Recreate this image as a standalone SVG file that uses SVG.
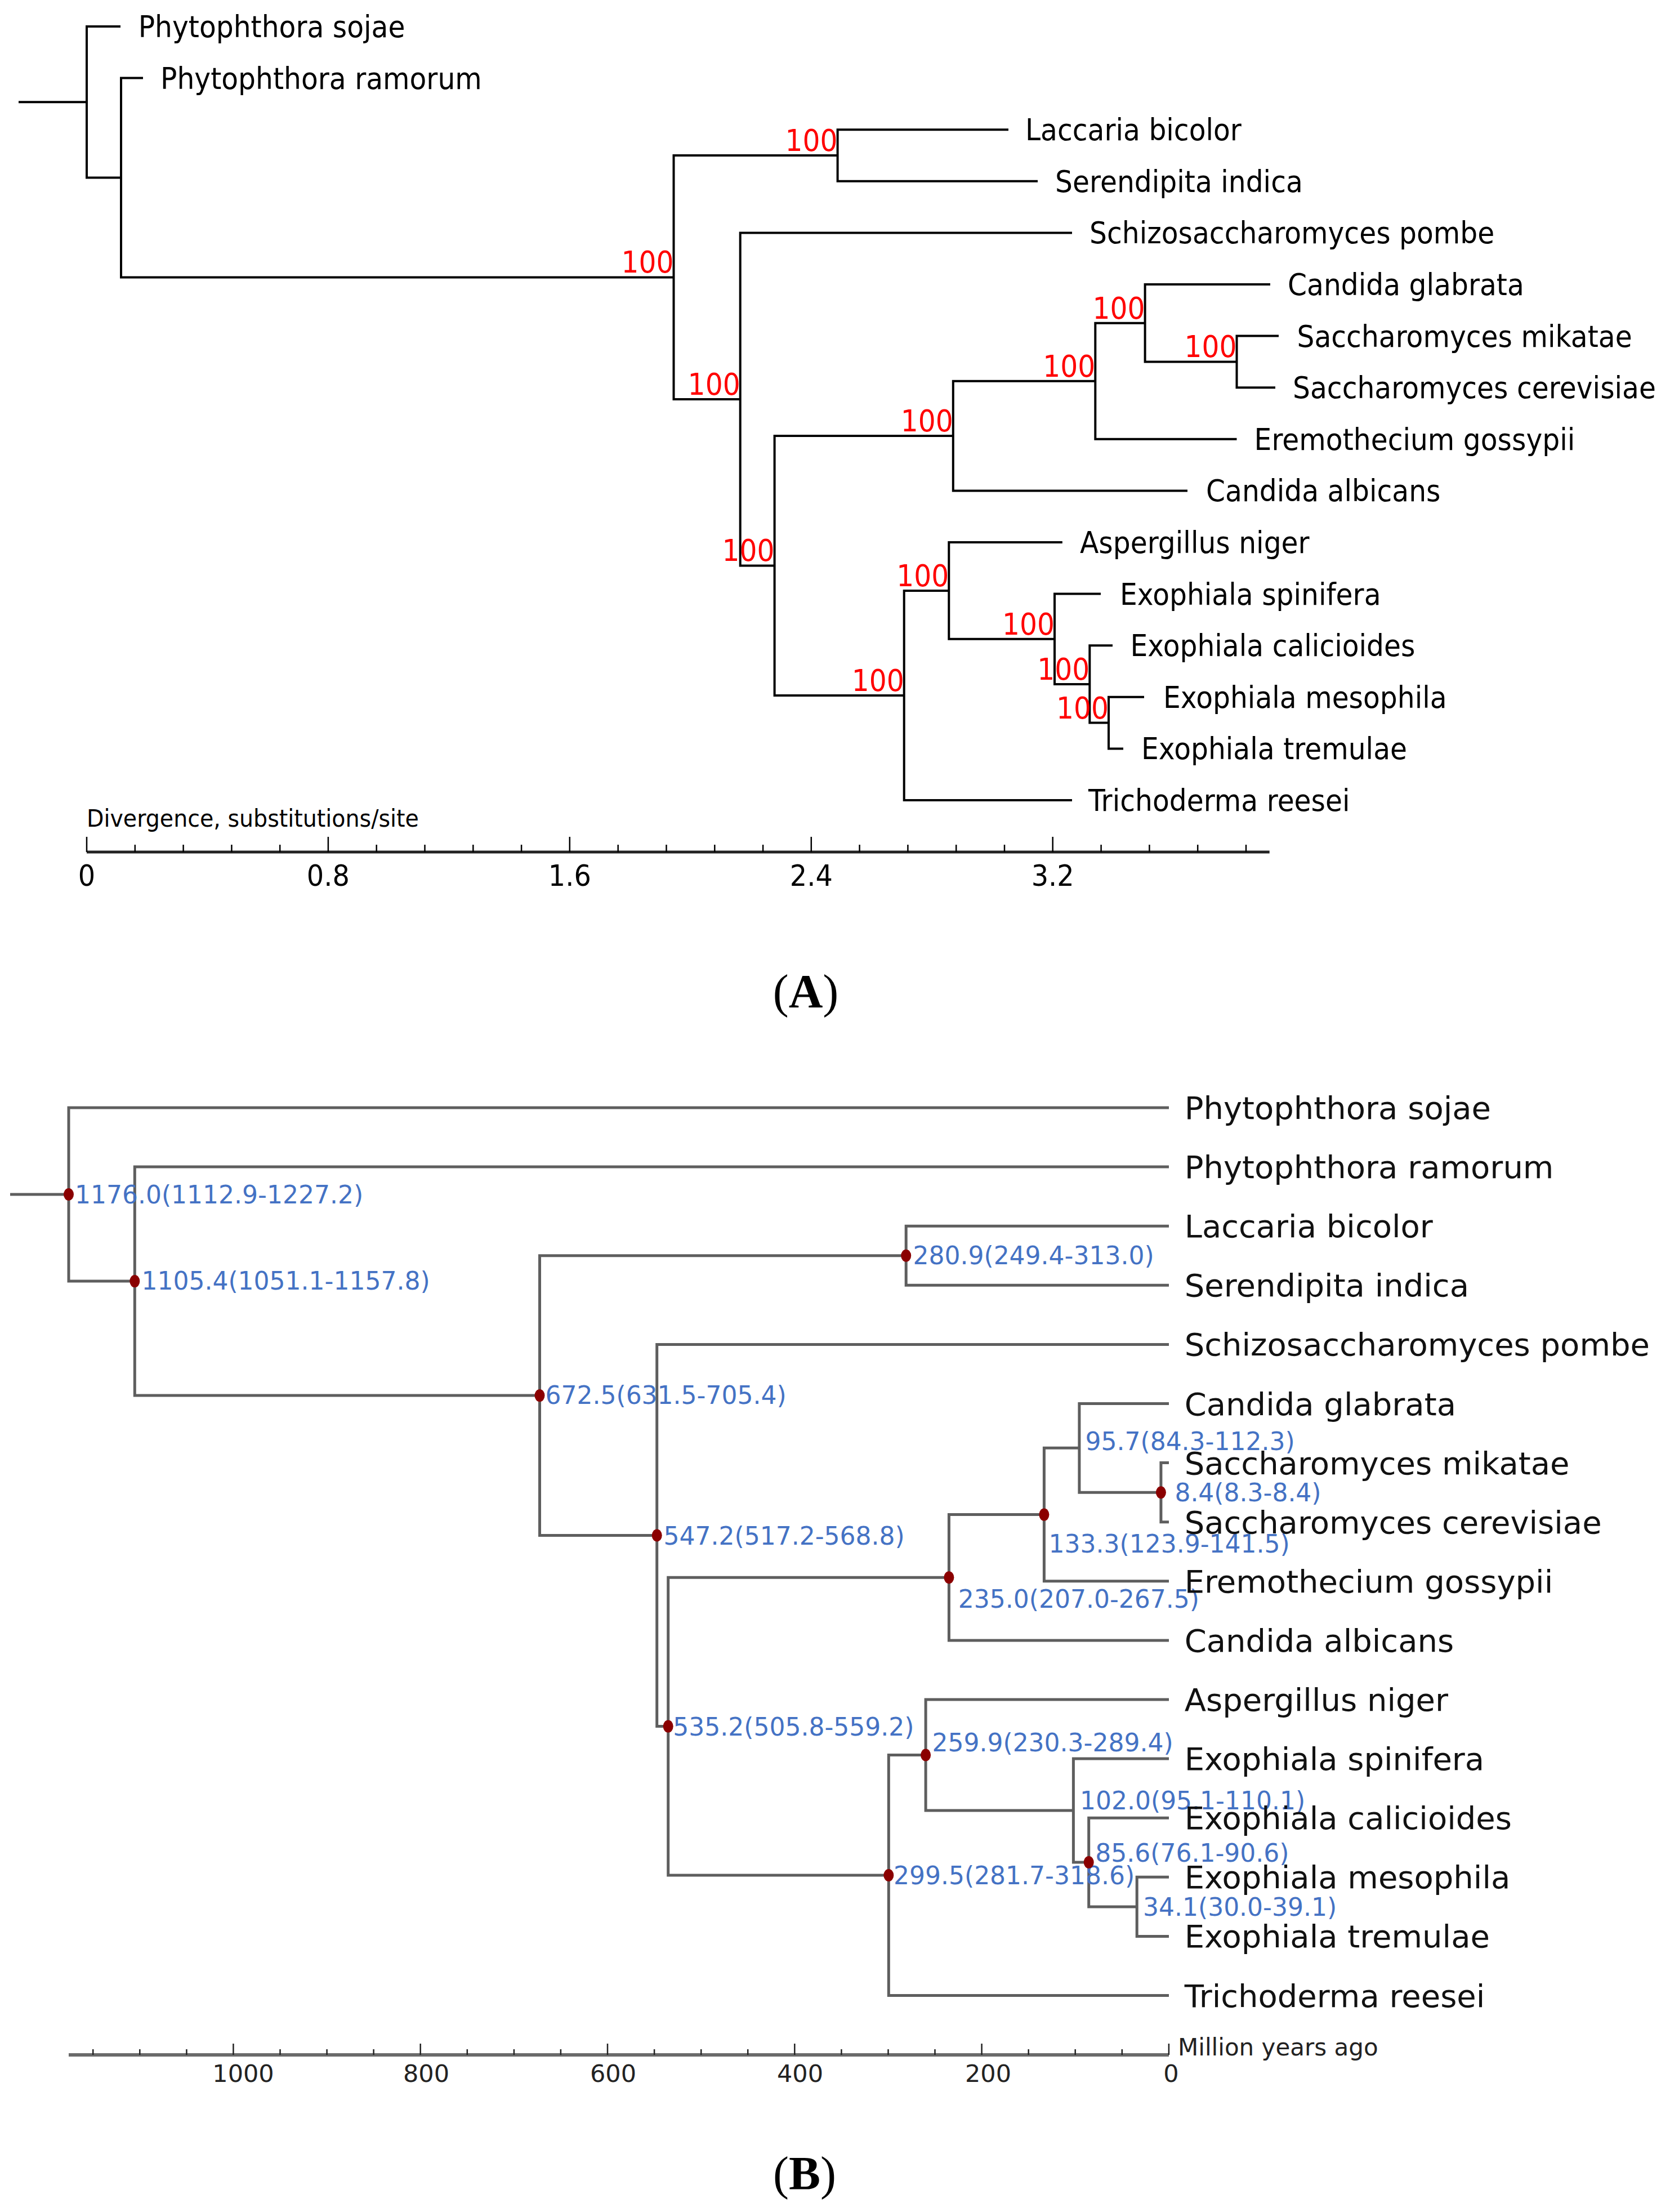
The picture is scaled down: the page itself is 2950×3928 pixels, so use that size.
<svg xmlns="http://www.w3.org/2000/svg" width="2950" height="3928" viewBox="0 0 2950 3928">
<style>
text { font-family: "DejaVu Sans", "Liberation Sans", sans-serif; }
.ta { font-size: 53px; fill: #000; }
.bs { font-size: 53px; fill: #ff0000; text-anchor: end; }
.tk { font-size: 52px; fill: #000; text-anchor: middle; }
.tb { font-size: 56px; fill: #111; }
.bl { font-size: 44px; fill: #4472c4; }
.tkb { font-size: 43px; fill: #222; text-anchor: middle; }
.ea { stroke: #000; stroke-width: 4; fill: none; }
.eb { stroke: #5e5e5e; stroke-width: 5; fill: none; }
.dot { fill: #8b0000; }
.cap { font-family: "Liberation Serif", "Times New Roman", serif; font-size: 84px; fill: #000; text-anchor: middle; }
</style>
<rect width="2950" height="3928" fill="#fff"/>

<!-- Panel A connectors -->
<g id="connectors-a" class="ea">
<path d="M33 181.3 H154"/>
<path d="M214 47 H154 V315.5 H215"/>
<path d="M254 138.6 H215 V492.5 H1196.5"/>
<path d="M1487.6 276 H1196.5 V709 H1314.7"/>
<path d="M1791 230.2 H1487.6 V321.8 H1843"/>
<path d="M1904 413.4 H1314.7 V1004.5 H1375.6"/>
<path d="M1692.8 774.1 H1375.6 V1234.9 H1605.7"/>
<path d="M1945.3 676.75 H1692.8 V871.4 H2109"/>
<path d="M2033.6 573.7 H1945.3 V779.8 H2196.5"/>
<path d="M2256 505 H2033.6 V642.4 H2196.5"/>
<path d="M2271 596.6 H2196.5 V688.2 H2265"/>
<path d="M1685.3 1048.9 H1605.7 V1421 H1904"/>
<path d="M1886.8 963 H1685.3 V1134.75 H1873"/>
<path d="M1955 1054.6 H1873 V1214.9 H1935.3"/>
<path d="M1976 1146.2 H1935.3 V1283.6 H1969"/>
<path d="M2032 1237.8 H1969 V1329.4 H1995"/>
</g>

<!-- Panel A leaf labels -->
<g id="a-leaves" transform="scale(0.92 1)">
<g id="a-sojae"><text class="ta" x="267.1" y="66">Phytophthora sojae</text></g>
<g id="a-ramorum"><text class="ta" x="309.8" y="157.6">Phytophthora ramorum</text></g>
<g id="a-laccaria"><text class="ta" x="1979.3" y="249.2">Laccaria bicolor</text></g>
<g id="a-serendipita"><text class="ta" x="2037" y="340.8">Serendipita indica</text></g>
<g id="a-schizo"><text class="ta" x="2103.3" y="432.4">Schizosaccharomyces pombe</text></g>
<g id="a-cglabrata"><text class="ta" x="2485.9" y="524">Candida glabrata</text></g>
<g id="a-smikatae"><text class="ta" x="2503.8" y="615.6">Saccharomyces mikatae</text></g>
<g id="a-scerevisiae"><text class="ta" x="2495.7" y="707.2">Saccharomyces cerevisiae</text></g>
<g id="a-eremothecium"><text class="ta" x="2421.3" y="798.8">Eremothecium gossypii</text></g>
<g id="a-calbicans"><text class="ta" x="2328.3" y="890.4">Candida albicans</text></g>
<g id="a-aspergillus"><text class="ta" x="2084.8" y="982">Aspergillus niger</text></g>
<g id="a-espinifera"><text class="ta" x="2162" y="1073.6">Exophiala spinifera</text></g>
<g id="a-ecalicioides"><text class="ta" x="2182.1" y="1165.2">Exophiala calicioides</text></g>
<g id="a-emesophila"><text class="ta" x="2245.7" y="1256.8">Exophiala mesophila</text></g>
<g id="a-etremulae"><text class="ta" x="2203.3" y="1348.4">Exophiala tremulae</text></g>
<g id="a-trichoderma"><text class="ta" x="2101.1" y="1440">Trichoderma reesei</text></g>
</g>

<!-- Panel A bootstrap labels -->
<g id="a-support" transform="scale(0.92 1)">
<g id="a-n-fungi"><text class="bs" x="1300.5" y="484.5">100</text></g>
<g id="a-n-basidio"><text class="bs" x="1617" y="268">100</text></g>
<g id="a-n2"><text class="bs" x="1429" y="701">100</text></g>
<g id="a-n3"><text class="bs" x="1495.2" y="996.5">100</text></g>
<g id="a-n4"><text class="bs" x="1840" y="766">100</text></g>
<g id="a-n5"><text class="bs" x="2114.5" y="668.8">100</text></g>
<g id="a-n6"><text class="bs" x="2210.4" y="565.7">100</text></g>
<g id="a-n7"><text class="bs" x="2387.5" y="634.4">100</text></g>
<g id="a-n8"><text class="bs" x="1745.3" y="1226.9">100</text></g>
<g id="a-n9"><text class="bs" x="1831.8" y="1040.9">100</text></g>
<g id="a-n10"><text class="bs" x="2035.9" y="1126.8">100</text></g>
<g id="a-n11"><text class="bs" x="2103.6" y="1206.9">100</text></g>
<g id="a-n12"><text class="bs" x="2140.2" y="1275.6">100</text></g>
</g>

<!-- Panel A axis -->
<g id="a-axis">
<path d="M154 1513 H2254.7" stroke="#222" stroke-width="5" fill="none"/>
<path d="M154 1486 V1513 M582.9 1486 V1513 M1011.8 1486 V1513 M1440.8 1486 V1513 M1869.7 1486 V1513" stroke="#000" stroke-width="2.5" fill="none"/>
<path d="M239.8 1500 V1513 M325.6 1500 V1513 M411.4 1500 V1513 M497.2 1500 V1513 M668.7 1500 V1513 M754.5 1500 V1513 M840.3 1500 V1513 M926.1 1500 V1513 M1097.7 1500 V1513 M1183.5 1500 V1513 M1269.3 1500 V1513 M1355.1 1500 V1513 M1526.6 1500 V1513 M1612.4 1500 V1513 M1698.2 1500 V1513 M1784 1500 V1513 M1955.6 1500 V1513 M2041.4 1500 V1513 M2127.2 1500 V1513 M2213 1500 V1513" stroke="#000" stroke-width="2.5" fill="none"/>
<g transform="scale(0.92 1)">
<text x="167.4" y="1468" style="font-size:43px" fill="#000">Divergence, substitutions/site</text>
<text class="tk" x="167.4" y="1573">0</text>
<text class="tk" x="633.6" y="1573">0.8</text>
<text class="tk" x="1099.8" y="1573">1.6</text>
<text class="tk" x="1566.1" y="1573">2.4</text>
<text class="tk" x="2032.3" y="1573">3.2</text>
</g>
</g>

<g id="caption-a"><text class="cap" x="1431" y="1789">(<tspan font-weight="bold">A</tspan>)</text></g>

<!-- Panel B connectors -->
<g id="connectors-b" class="eb">
<path d="M18 2121 H122"/>
<path d="M2076 1967 H122 V2275.1 H239.3"/>
<path d="M2076 2072.1 H239.3 V2478.1 H958.5"/>
<path d="M1609.2 2229.7 H958.5 V2726.5 H1166.7"/>
<path d="M2076 2177.2 H1609.2 V2282.3 H2076"/>
<path d="M2076 2387.4 H1166.7 V3065.6 H1186.7"/>
<path d="M1685.4 2801.2 H1186.7 V3330 H1578.3"/>
<path d="M1854.4 2689.6 H1685.4 V2912.9 H2076"/>
<path d="M1916.9 2571.3 H1854.4 V2807.8 H2076"/>
<path d="M2076 2492.5 H1916.9 V2650.2 H2061.9"/>
<path d="M2076 2597.6 H2061.9 V2702.7 H2076"/>
<path d="M1644.1 3116.5 H1578.3 V3543.5 H2076"/>
<path d="M2076 3018 H1644.1 V3215 H1906.4"/>
<path d="M2076 3123.1 H1906.4 V3307 H1933.7"/>
<path d="M2076 3228.2 H1933.7 V3385.9 H2019.2"/>
<path d="M2076 3333.3 H2019.2 V3438.4 H2076"/>
</g>

<!-- Panel B node markers and age labels -->
<g id="b-n1176"><ellipse class="dot" cx="122" cy="2121" rx="9" ry="11"/><text class="bl" x="133" y="2137">1176.0(1112.9-1227.2)</text></g>
<g id="b-n1105"><ellipse class="dot" cx="239.3" cy="2275.1" rx="9" ry="11"/><text class="bl" x="251.5" y="2290">1105.4(1051.1-1157.8)</text></g>
<g id="b-n672"><ellipse class="dot" cx="958.5" cy="2478.1" rx="9" ry="11"/><text class="bl" x="968.5" y="2493">672.5(631.5-705.4)</text></g>
<g id="b-n280"><ellipse class="dot" cx="1609.2" cy="2229.7" rx="9" ry="11"/><text class="bl" x="1621.5" y="2245">280.9(249.4-313.0)</text></g>
<g id="b-n547"><ellipse class="dot" cx="1166.7" cy="2726.5" rx="9" ry="11"/><text class="bl" x="1178.6" y="2742.5">547.2(517.2-568.8)</text></g>
<g id="b-n535"><ellipse class="dot" cx="1186.7" cy="3065.6" rx="9" ry="11"/><text class="bl" x="1195.3" y="3082">535.2(505.8-559.2)</text></g>
<g id="b-n299"><ellipse class="dot" cx="1578.3" cy="3330" rx="9" ry="11"/><text class="bl" x="1587" y="3346">299.5(281.7-318.6)</text></g>
<g id="b-n259"><ellipse class="dot" cx="1644.1" cy="3116.5" rx="9" ry="11"/><text class="bl" x="1655.5" y="3110">259.9(230.3-289.4)</text></g>
<g id="b-n235"><ellipse class="dot" cx="1685.4" cy="2801.2" rx="9" ry="11"/><text class="bl" x="1701.8" y="2855.4">235.0(207.0-267.5)</text></g>
<g id="b-n133"><ellipse class="dot" cx="1854.4" cy="2689.6" rx="9" ry="11"/><text class="bl" x="1862.6" y="2756.5">133.3(123.9-141.5)</text></g>
<g id="b-n95"><text class="bl" x="1927.5" y="2574.5">95.7(84.3-112.3)</text></g>
<g id="b-n8"><ellipse class="dot" cx="2061.9" cy="2650.2" rx="9" ry="11"/><text class="bl" x="2086.4" y="2666">8.4(8.3-8.4)</text></g>
<g id="b-n102"><text class="bl" x="1918" y="3212.5">102.0(95.1-110.1)</text></g>
<g id="b-n85"><ellipse class="dot" cx="1933.7" cy="3307" rx="9" ry="11"/><text class="bl" x="1945.3" y="3306">85.6(76.1-90.6)</text></g>
<g id="b-n34"><text class="bl" x="2030" y="3402">34.1(30.0-39.1)</text></g>

<!-- Panel B leaf labels -->
<g id="b-leaves">
<g id="b-sojae"><text class="tb" x="2103.7" y="1987">Phytophthora sojae</text></g>
<g id="b-ramorum"><text class="tb" x="2103.7" y="2092.1">Phytophthora ramorum</text></g>
<g id="b-laccaria"><text class="tb" x="2103.7" y="2197.2">Laccaria bicolor</text></g>
<g id="b-serendipita"><text class="tb" x="2103.7" y="2302.3">Serendipita indica</text></g>
<g id="b-schizo"><text class="tb" x="2103.7" y="2407.4">Schizosaccharomyces pombe</text></g>
<g id="b-cglabrata"><text class="tb" x="2103.7" y="2512.5">Candida glabrata</text></g>
<g id="b-smikatae"><text class="tb" x="2103.7" y="2617.6">Saccharomyces mikatae</text></g>
<g id="b-scerevisiae"><text class="tb" x="2103.7" y="2722.7">Saccharomyces cerevisiae</text></g>
<g id="b-eremothecium"><text class="tb" x="2103.7" y="2827.8">Eremothecium gossypii</text></g>
<g id="b-calbicans"><text class="tb" x="2103.7" y="2932.9">Candida albicans</text></g>
<g id="b-aspergillus"><text class="tb" x="2103.7" y="3038">Aspergillus niger</text></g>
<g id="b-espinifera"><text class="tb" x="2103.7" y="3143.1">Exophiala spinifera</text></g>
<g id="b-ecalicioides"><text class="tb" x="2103.7" y="3248.2">Exophiala calicioides</text></g>
<g id="b-emesophila"><text class="tb" x="2103.7" y="3353.3">Exophiala mesophila</text></g>
<g id="b-etremulae"><text class="tb" x="2103.7" y="3458.4">Exophiala tremulae</text></g>
<g id="b-trichoderma"><text class="tb" x="2103.7" y="3563.5">Trichoderma reesei</text></g>
</g>

<!-- Panel B axis -->
<g id="b-axis">
<path d="M122 3649 H2076" stroke="#6a6a6a" stroke-width="6" fill="none"/>
<path d="M2075.9 3629 V3649 M1743.6 3629 V3649 M1411.3 3629 V3649 M1079 3629 V3649 M746.7 3629 V3649 M414.4 3629 V3649" stroke="#222" stroke-width="2.5" fill="none"/>
<path d="M1992.8 3639 V3649 M1909.7 3639 V3649 M1826.7 3639 V3649 M1660.5 3639 V3649 M1577.5 3639 V3649 M1494.4 3639 V3649 M1328.2 3639 V3649 M1245.2 3639 V3649 M1162.1 3639 V3649 M995.9 3639 V3649 M912.9 3639 V3649 M829.8 3639 V3649 M663.6 3639 V3649 M580.6 3639 V3649 M497.5 3639 V3649 M331.4 3639 V3649 M248.3 3639 V3649 M165.2 3639 V3649" stroke="#222" stroke-width="2.5" fill="none"/>
<text class="tkb" x="432" y="3697">1000</text>
<text class="tkb" x="757" y="3697">800</text>
<text class="tkb" x="1089" y="3697">600</text>
<text class="tkb" x="1421" y="3697">400</text>
<text class="tkb" x="1755" y="3697">200</text>
<text class="tkb" x="2080" y="3697">0</text>
<text x="2092" y="3650" style="font-size:42px" fill="#222">Million years ago</text>
</g>

<g id="caption-b"><text class="cap" x="1429" y="3888">(<tspan font-weight="bold">B</tspan>)</text></g>
</svg>
